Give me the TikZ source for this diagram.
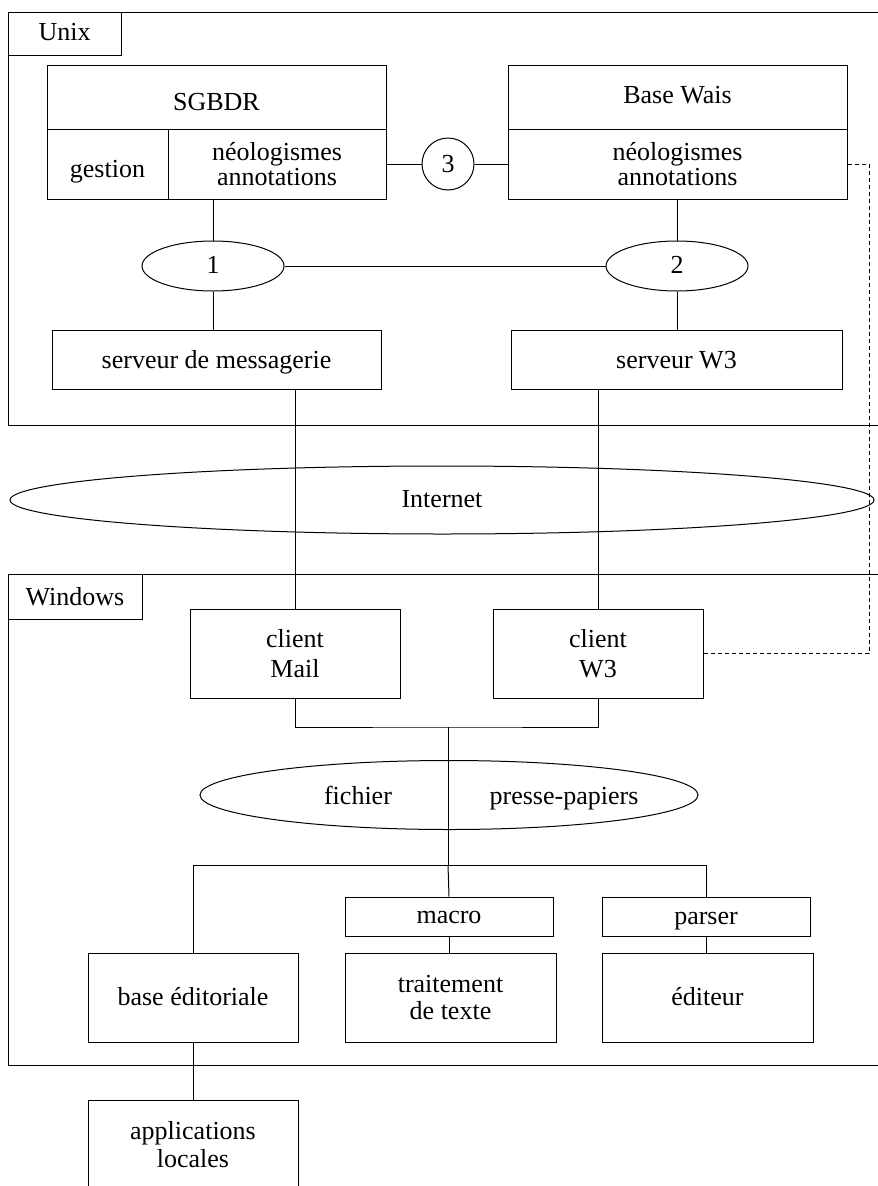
\documentclass[tikz,border=0pt]{standalone}
\usepackage{fontspec}
\setmainfont{Liberation Serif}
\usetikzlibrary{shapes.geometric}
\begin{document}
\begin{tikzpicture}[x=1pt,y=-1pt,line width=1pt,
  txt/.style={inner sep=0pt,align=center,font=\fontsize{26}{25}\selectfont},
  bl/.style={text height={\dimexpr 19pt+#1pt\relax},text depth={\dimexpr 19pt-#1pt\relax}},
  bls/.style={text height={\dimexpr 12pt+#1pt\relax},text depth={\dimexpr 12pt-#1pt\relax}},
  box/.style={txt,draw,rectangle},
  ell/.style={txt,draw,ellipse},
  circ/.style={txt,draw,circle,minimum size=52pt},
  link/.style={dash pattern=on 4pt off 3pt}]
\useasboundingbox (0,0) rectangle (878,1186);
% frames
\coordinate (uTR) at (878,12); \coordinate (uTL) at (8,12);
\coordinate (uBL) at (8,425); \coordinate (uBR) at (878,425);
\draw (uTR) -- (uTL) -- (uBL) -- (uBR);
\node[box,bl=6.5,minimum width=113pt,minimum height=43pt] (unix) at (64.5,33.5) {Unix};
\coordinate (wTR) at (878,574); \coordinate (wTL) at (8,574);
\coordinate (wBL) at (8,1065); \coordinate (wBR) at (878,1065);
\draw (wTR) -- (wTL) -- (wBL) -- (wBR);
\node[box,bl=8.5,minimum width=134pt,minimum height=45pt] (win) at (75,596.5) {Windows};
% Unix part
\node[box,bl=13.5,minimum width=339pt,minimum height=64pt] (sgbdr) at (216.5,97) {SGBDR};
\node[box,bl=13,minimum width=121pt,minimum height=70pt] (gest) at (107.5,164) {gestion};
\node[box,minimum width=218pt,minimum height=70pt] (neoA) at (277,164) {néologismes\\annotations};
\node[box,bl=6,minimum width=339pt,minimum height=64pt] (wais) at (677.5,97) {Base Wais};
\node[box,minimum width=339pt,minimum height=70pt] (neoB) at (677.5,164) {néologismes\\annotations};
\node[circ,bls=8.5] (c3) at (448,164) {3};
\draw (neoA.east) -- (c3.west);
\draw (c3.east) -- (neoB.west);
\node[ell,bls=7,minimum width=142pt,minimum height=50pt] (e1) at (213,266) {1};
\node[ell,bls=7,minimum width=142pt,minimum height=50pt] (e2) at (677,266) {2};
\draw (e1.east) -- (e2.west);
\draw (e1.north) -- (e1.north |- neoA.south);
\draw (e2.north) -- (e2.north |- neoB.south);
\node[box,bl=8.5,minimum width=329pt,minimum height=59pt] (srvM) at (216.5,359.5) {serveur de messagerie};
\node[box,bl=8.5,minimum width=331pt,minimum height=59pt] (srvW) at (676.5,359.5) {serveur W3};
\draw (e1.south) -- (e1.south |- srvM.north);
\draw (e2.south) -- (e2.south |- srvW.north);
% Internet
\node[ell,bl=7,minimum width=864pt,minimum height=68pt] (inet) at (442,500) {Internet};
% Windows part
\node[box,minimum width=210pt,minimum height=89pt] (cmail) at (295,653.5) {client\\[5pt]Mail};
\node[box,minimum width=210pt,minimum height=89pt] (cw3) at (598,653.5) {client\\[5pt]W3};
\draw (cmail.north |- srvM.south) -- (cmail.north);
\draw (cw3.north |- srvW.south) -- (cw3.north);
\coordinate (dA) at (869,164); \coordinate (dB) at (869,653.5);
\draw[link] (neoB.east) -- (dA) -- (dB) -- (cw3.east);
\coordinate (j1) at (448,727); \coordinate (j2) at (448,865);
\draw (cmail.south) |- (j1) -| (cw3.south);
\node[ell,minimum width=498pt,minimum height=69pt] (clipb) at (449,795) {};
\node[txt,bl=9] (fich) at (358,795) {fichier};
\node[txt,bl=9] (pp) at (564,795) {presse-papiers};
\draw (j1) -- (j2);
\node[box,bl=6.5,minimum width=208pt,minimum height=39pt] (macro) at (449,916.5) {macro};
\node[box,bl=8,minimum width=208pt,minimum height=39pt] (parser) at (706,916.5) {parser};
\node[box,minimum width=211pt,minimum height=89pt] (tt) at (450.5,997.5) {traitement\\[2pt]de texte};
\node[box,bl=7.5,minimum width=211pt,minimum height=89pt] (edit) at (707.5,997.5) {éditeur};
\node[box,bl=7.5,minimum width=210pt,minimum height=89pt] (base) at (193,997.5) {base éditoriale};
\draw (base.north) |- (j2) -| (parser.north);
\draw (j2) -- (macro.north);
\draw (macro.south) -- (macro.south |- tt.north);
\draw (parser.south) -- (parser.south |- edit.north);
% applications locales (cut at bottom)
\coordinate (aBL) at (88,1186); \coordinate (aTL) at (88,1100);
\coordinate (aTR) at (298,1100); \coordinate (aBR) at (298,1186);
\draw (aBL) -- (aTL) -- (aTR) -- (aBR);
\node[txt] (apps) at (193,1145) {applications\\[3pt]locales};
\draw (base.south) -- (base.south |- aTL);
\end{tikzpicture}
\end{document}
